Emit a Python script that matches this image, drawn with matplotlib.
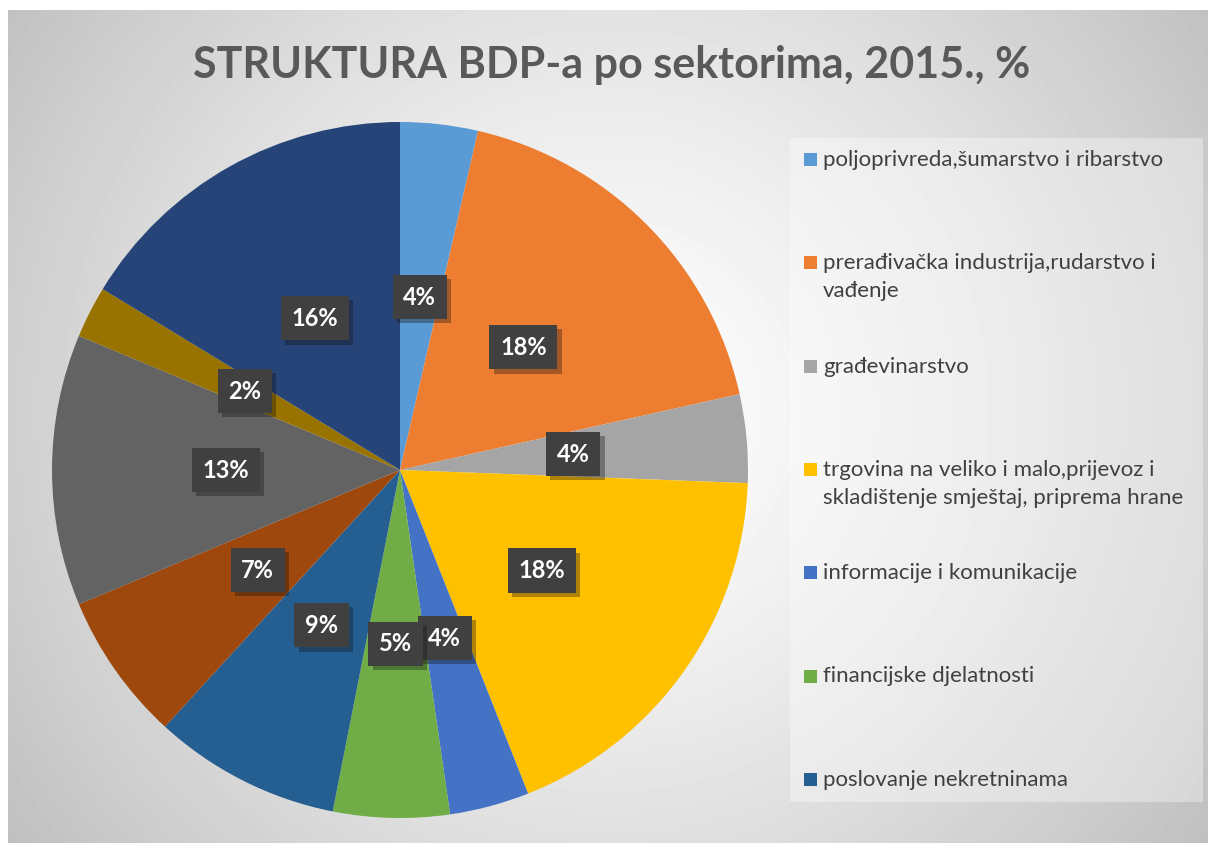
import matplotlib.pyplot as plt
import matplotlib.patheffects as pe
from matplotlib.patches import Rectangle
import numpy as np

plt.rcParams['font.family'] = ['Lato', 'DejaVu Sans']

# shares of GDP by sector, 2015
values = [3.6, 17.9, 4.1, 18.4, 3.7, 5.4, 8.7, 6.9, 12.6, 2.4, 16.3]
colors = ['#5B9BD5', '#ED7D31', '#A5A5A5', '#FFC000', '#4472C4', '#70AD47',
          '#255E91', '#9E480E', '#636363', '#997300', '#264478']
# the original legend only has room for the first seven entries
legend_labels = ['poljoprivreda,šumarstvo i ribarstvo',
                 'prerađivačka industrija,rudarstvo i\nvađenje',
                 'građevinarstvo',
                 'trgovina na veliko i malo,prijevoz i\nskladištenje smještaj, priprema hrane',
                 'informacije i komunikacije',
                 'financijske djelatnosti',
                 'poslovanje nekretninama']
title = 'STRUKTURA BDP-a po sektorima, 2015., %'

W, H = 1208, 843
fig = plt.figure(figsize=(W / 100, H / 100), dpi=100)
fig.patch.set_facecolor('white')

# radial grey background of the chart area
bg = fig.add_axes([8 / W, 0, 1 - 8 / W, 1 - 10 / H])
yy, xx = np.mgrid[0:833, 0:1200]
d = np.hypot(xx - 600, yy - 400) / 740
shade = 1 - 0.25 * np.clip(d, 0, 1) ** 1.3
bg.imshow(shade, cmap='gray', vmin=0, vmax=1, aspect='auto', interpolation='bilinear')
bg.axis('off')

# title
fig.text(612 / W, 1 - 65 / H, title, ha='center', va='center',
         fontsize=31, fontweight='bold', color='#595959')

# pie
ax = fig.add_axes([52 / W, 25 / H, 696 / W, 696 / H])
wedges, texts, autotexts = ax.pie(values, colors=colors, startangle=90, counterclock=False,
                                  radius=1, pctdistance=0.5,
                                  autopct=lambda p: f'{p:.0f}%',
                                  wedgeprops=dict(linewidth=0))
ax.set_xlim(-1, 1)
ax.set_ylim(-1, 1)
ax.set_aspect('equal')
ax.axis('off')
for t in autotexts:
    t.set_color('white')
    t.set_fontsize(17)
    t.set_fontweight('bold')
    t.set_bbox(dict(boxstyle='square,pad=0.45', facecolor='#404040', edgecolor='none'))
    t.get_bbox_patch().set_path_effects([pe.SimplePatchShadow(offset=(3, -3), alpha=0.35),
                                         pe.Normal()])

# legend, drawn by hand to keep the even spacing of the original
fig.patches.append(Rectangle((790 / W, 1 - 802 / H), 413 / W, 664 / H,
                             transform=fig.transFigure, facecolor='white',
                             alpha=0.35, edgecolor='none'))
for i, lab in enumerate(legend_labels):
    y = 160 + i * 103.3
    fig.patches.append(Rectangle((804 / W, 1 - (y + 6) / H), 13 / W, 13 / H,
                                 transform=fig.transFigure, facecolor=colors[i],
                                 edgecolor='none'))
    fig.text(823 / W, 1 - (y - 10) / H, lab, ha='left', va='top', fontsize=16,
             color='#404040', linespacing=1.5)

fig.savefig('out.png', dpi=100)
